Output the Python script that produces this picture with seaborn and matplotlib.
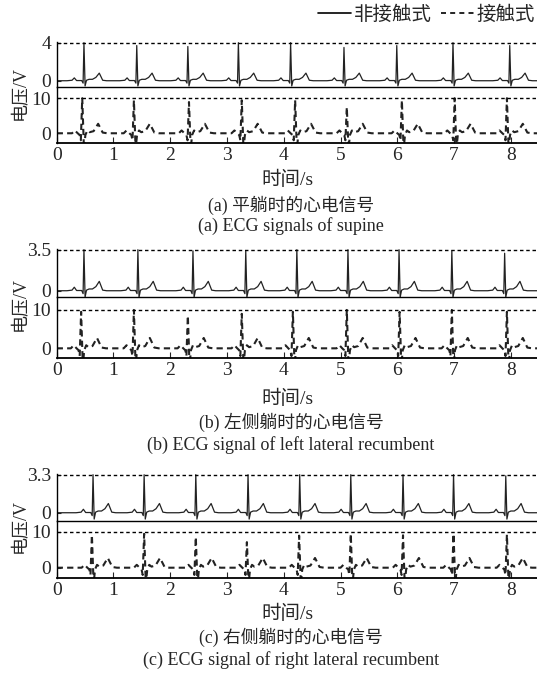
import numpy as np
import pandas as pd
import matplotlib
matplotlib.use("Agg")
import matplotlib.pyplot as plt
from matplotlib.lines import Line2D
import seaborn as sns

# R-peak times (s) and peak heights (V)
nc_times_a = [0.48, 1.41, 2.31, 3.20, 4.12, 5.06, 5.99, 6.98, 7.98]
nc_peaks_a = [4.0, 3.7, 3.6, 4.0, 4.0, 3.5, 3.7, 4.0, 3.7]
ct_times_a = [0.45, 1.36, 2.33, 3.26, 4.20, 5.11, 6.08, 7.01, 7.93]
ct_peaks_a = [10.0, 9.4, 8.9, 9.4, 9.4, 7.4, 9.4, 10.0, 10.0]

nc_times_b = [0.48, 1.43, 2.40, 3.33, 4.23, 5.13, 6.03, 6.96, 7.89]
nc_peaks_b = [3.5, 3.5, 3.4, 3.4, 3.5, 3.5, 3.5, 3.4, 3.2]
ct_times_b = [0.43, 1.36, 2.31, 3.26, 4.16, 5.11, 6.04, 6.96, 7.93]
ct_peaks_b = [9.5, 10.0, 8.5, 9.0, 9.5, 10.0, 9.5, 10.0, 9.5]

nc_times_c = [0.64, 1.54, 2.45, 3.37, 4.28, 5.18, 6.10, 6.99, 7.91]
nc_peaks_c = [3.3, 3.3, 3.3, 3.3, 3.3, 3.3, 3.3, 3.3, 3.2]
ct_times_c = [0.62, 1.54, 2.45, 3.35, 4.27, 5.18, 6.10, 6.99, 7.93]
ct_peaks_c = [9.1, 9.4, 8.5, 7.1, 8.9, 9.4, 9.0, 9.4, 9.2]

# one heartbeat as seen in the picture (offset from R peak in s, value in V; R itself is per beat)
nc_shape_t = [-0.30, -0.21, -0.17, -0.13, -0.04, -0.015, 0.0, 0.02, 0.045, 0.09, 0.15, 0.21, 0.27, 0.33, 0.40]
nc_shape_v = [0.0, 0.05, 0.30, 0.02, 0.02, -0.25, 1.0, -0.55, 0.05, 0.15, 0.15, 0.35, 0.80, 0.05, 0.0]
ct_shape_t = [-0.30, -0.18, -0.13, -0.08, -0.045, -0.025, 0.0, 0.03, 0.055, 0.09, 0.13, 0.20, 0.28, 0.36, 0.44]
ct_shape_v = [0.0, 0.0, 0.8, 0.0, -0.5, -2.0, 1.0, -4.5, -0.5, 0.8, 0.3, 0.6, 2.7, 0.2, 0.0]

nc_tops = [4, 3.5, 3.3]
nc_top_labels = ["4", "3.5", "3.3"]
ct_top = 10
x_ticks = [0, 1, 2, 3, 4, 5, 6, 7, 8]
x_max = 8.46

captions_cn = ["(a) 平躺时的心电信号", "(b) 左侧躺时的心电信号", "(c) 右侧躺时的心电信号"]
captions_en = ["(a) ECG signals of supine", "(b) ECG signal of left lateral recumbent",
               "(c) ECG signal of right lateral recumbent"]
legend_labels = ["非接触式", "接触式"]

sns.set_style("ticks")
plt.rcParams['font.family'] = ['Liberation Serif', 'Noto Sans CJK SC']
plt.rcParams['axes.linewidth'] = 1.0
plt.rcParams['axes.edgecolor'] = 'black'


def beats(times, peaks, shape_t, shape_v):
    st = np.array(shape_t)
    t = [0.0]
    v = [0.0]
    for bt, pk in zip(times, peaks):
        vv = np.where(st == 0, pk, np.array(shape_v))
        t.extend(bt + st)
        v.extend(vv)
    t.append(x_max)
    v.append(0.0)
    return pd.DataFrame({"t": t, "v": v})


fig = plt.figure(figsize=(5.37, 6.75), dpi=100)
H = 675.0

# pixel rows of each panel: upper top, separator, lower bottom; plus ylims
rows = [(42.3, 87.3, 143.3), (249.3, 297.3, 358.3), (474.3, 520.7, 578.3)]
up_lims = [(-0.69, 4.0), (-0.56, 3.5), (-0.69, 3.3)]
lo_lims = [(-2.86, 13.1), (-2.6, 13.3), (-2.94, 13.05)]
text_rows = [(180, 205, 226), (399, 422, 445), (614, 637, 660)]

nc_all = [(nc_times_a, nc_peaks_a), (nc_times_b, nc_peaks_b), (nc_times_c, nc_peaks_c)]
ct_all = [(ct_times_a, ct_peaks_a), (ct_times_b, ct_peaks_b), (ct_times_c, ct_peaks_c)]

left = 56.7 / 537
width = 1 - left
for i in range(3):
    top, sep, bot = rows[i]
    ax2 = fig.add_axes([left, 1 - bot / H, width, (bot - sep) / H])
    ax1 = fig.add_axes([left, 1 - sep / H, width, (sep - top) / H])

    d1 = beats(nc_all[i][0], nc_all[i][1], nc_shape_t, nc_shape_v)
    d2 = beats(ct_all[i][0], ct_all[i][1], ct_shape_t, ct_shape_v)
    sns.lineplot(data=d1, x="t", y="v", ax=ax1, color="#222222", lw=0.9,
                 estimator=None, sort=False)
    sns.lineplot(data=d2, x="t", y="v", ax=ax2, color="#222222", lw=1.5,
                 estimator=None, sort=False, linestyle=(0, (3, 2)))

    ax1.axhline(nc_tops[i], color="k", lw=1, ls=(0, (2.5, 2)))
    ax2.axhline(ct_top, color="k", lw=1, ls=(0, (2.5, 2)))

    ax1.set_xlim(0, x_max)
    ax2.set_xlim(0, x_max)
    ax1.set_ylim(up_lims[i][0], up_lims[i][1] * 1.01)
    ax2.set_ylim(*lo_lims[i])

    for ax in (ax1, ax2):
        ax.patch.set_visible(False)
        ax.spines['top'].set_visible(False)
        ax.spines['right'].set_visible(False)
        ax.set_xlabel("")
        ax.set_ylabel("")
        ax.tick_params(axis='y', direction='in', length=3, labelsize=14, pad=4)
    ax1.set_yticks([0, nc_tops[i]])
    ax1.set_yticklabels(["0", nc_top_labels[i]])
    ax1.set_xticks([])
    ax2.set_yticks([0, ct_top])
    ax2.set_yticklabels(["0", "10"])
    ax2.set_xticks(x_ticks)
    ax2.tick_params(axis='x', direction='in', length=4, labelsize=14, pad=3)
    ax2.spines['bottom'].set_linewidth(1.3)

    fig.text(20 / 537, 1 - (top + bot) / 2 / H, "电压/V", rotation=90,
             ha='center', va='center', fontsize=13)
    xl, c1, c2 = text_rows[i]
    fig.text(287 / 537, 1 - xl / H, "时间/s", ha='center', va='center', fontsize=14)
    fig.text(291 / 537, 1 - c1 / H, captions_cn[i], ha='center', va='center', fontsize=12.8)
    fig.text(291 / 537, 1 - c2 / H, captions_en[i], ha='center', va='center', fontsize=13)

handles = [Line2D([], [], color='k', lw=1.2),
           Line2D([], [], color='k', lw=1.2, ls=(0, (3, 2.5)))]
fig.legend(handles, legend_labels, loc='center right', bbox_to_anchor=(1.0, 1 - 15 / H),
           ncol=2, frameon=False, fontsize=14, handlelength=1.7, handletextpad=0.15,
           columnspacing=0.45, borderaxespad=0, borderpad=0.1)

fig.savefig("out.png", dpi=100)
